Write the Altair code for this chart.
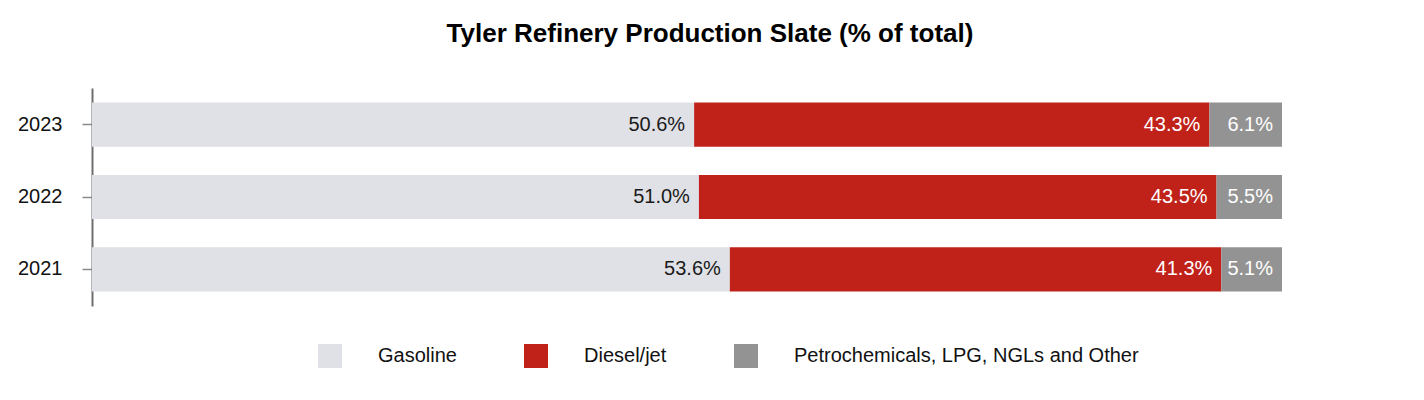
import altair as alt
import pandas as pd

years = ["2023", "2022", "2021"]
categories = ["Gasoline", "Diesel/jet", "Petrochemicals, LPG, NGLs and Other"]
gasoline = [50.6, 51.0, 53.6]
diesel = [43.3, 43.5, 41.3]
other = [6.1, 5.5, 5.1]
colors = ["#E0E1E6", "#C0221A", "#939393"]

FONT = "Liberation Sans"

rows = []
for i, yr in enumerate(years):
    start = 0.0
    for cat, vals in zip(categories, [gasoline, diesel, other]):
        v = vals[i]
        rows.append(dict(year=yr, category=cat, value=v, start=start,
                         end=round(start + v, 3), label=f"{v:.1f}%"))
        start += v
df = pd.DataFrame(rows)

yenc = alt.Y("year:N", sort=years,
             scale=alt.Scale(paddingInner=0.39, paddingOuter=0.2),
             axis=alt.Axis(title=None, domainColor="#6e6e6e", domainWidth=2,
                           tickColor="#8a8a8a", tickWidth=1.5, tickSize=10,
                           labelPadding=20, labelFontSize=20, labelFont=FONT,
                           labelColor="#111111", grid=False))
xscale = alt.Scale(domain=[0, 100], nice=False, zero=True)

base = alt.Chart(df)

bars = base.mark_bar().encode(
    x=alt.X("start:Q", scale=xscale, axis=None),
    x2="end:Q",
    y=yenc,
    color=alt.Color("category:N",
                    scale=alt.Scale(domain=categories, range=colors),
                    legend=alt.Legend(title=None, orient="none", direction="horizontal",
                                      legendX=226, legendY=256,
                                      symbolType="square", symbolSize=576,
                                      symbolStrokeWidth=0, symbolOpacity=1,
                                      labelOffset=36, columnPadding=67,
                                      labelFontSize=20, labelFont=FONT, labelLimit=600,
                                      labelColor="#111111", padding=0)),
)

text_dark = base.transform_filter(alt.datum.category == "Gasoline").mark_text(
    align="right", baseline="middle", dx=-9, fontSize=20, font=FONT, color="#1a1a1a"
).encode(x=alt.X("end:Q", scale=xscale, axis=None), y=yenc, text="label:N")

text_light = base.transform_filter(alt.datum.category != "Gasoline").mark_text(
    align="right", baseline="middle", dx=-9, fontSize=20, font=FONT, color="#ffffff"
).encode(x=alt.X("end:Q", scale=xscale, axis=None), y=yenc, text="label:N")

chart = alt.layer(bars, text_dark, text_light).properties(
    width=1190, height=218,
    autosize=alt.AutoSizeParams(type="none"),
    padding={"left": 84, "top": 80, "right": 126, "bottom": 78},
    title=alt.TitleParams("Tyler Refinery Production Slate (% of total)",
                          fontSize=26, font=FONT, fontWeight="bold", color="#000000",
                          anchor="middle", dx=23, offset=20, baseline="alphabetic"),
).configure(font=FONT).configure_view(stroke=None)

chart.save("out.html", embed_options={"renderer": "svg", "actions": False})
